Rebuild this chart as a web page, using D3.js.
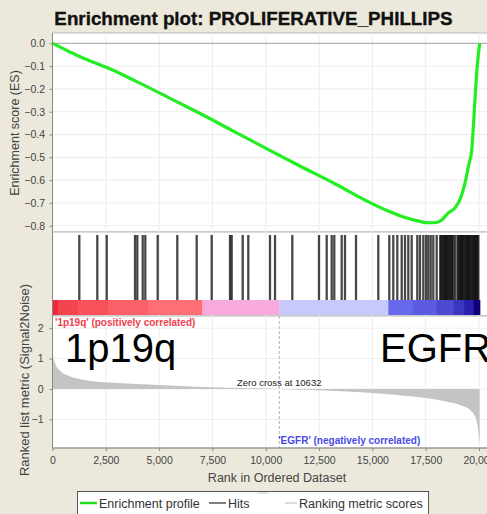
<!DOCTYPE html>
<html>
<head>
<meta charset="utf-8">
<script src="https://cdn.jsdelivr.net/npm/d3@7/dist/d3.min.js"></script>
<style>
  body { margin: 0; background: #ece9dc; }
  svg { display: block; font-family: "Liberation Sans", Arial, sans-serif; }
</style>
</head>
<body>
<svg id="chart" width="487" height="514"></svg>
<script>
// running enrichment score, [rank, ES]
var esProfile = [[0,0],[600,-0.028],[1250,-0.057],[2100,-0.09],[2550,-0.106],[3900,-0.166],
  [5400,-0.236],[6900,-0.307],[8500,-0.386],[10100,-0.465],[11600,-0.538],[13200,-0.614],
  [14750,-0.692],[15800,-0.738],[16500,-0.763],[17230,-0.781],[17600,-0.787],[18000,-0.786],
  [18250,-0.775],[18560,-0.744],[18870,-0.722],[19100,-0.687],[19260,-0.643],[19420,-0.58],
  [19500,-0.541],[19660,-0.468],[19740,-0.36],[19810,-0.25],[19900,-0.12],[19980,-0.04],[20040,0]];

// ranks of gene set members
var hits = [1257,2101,2542,3869,3977,4230,4352,4933,5852,6762,7465,8324,8403,8919,9182,
  10199,10434,11245,12497,12858,13093,13214,13561,13716,14232,15278,15794,15981,16169,
  16375,16530,16685,16844,17107,17233,17388,17515,17623,17735,17857,18016,
  18180,18230,18290,18340,18400,18450,18510,18560,18620,18670,18730,18790,18875,
  18990,19040,19100,19150,19210,19260,19320,19370,19430,19480,19540,19590,19650,
  19700,19760,19810,19870,19920,19970];

// ranked list metric (signal2noise), [rank, value]
var metric = [[0,1.3],[50,1.0],[150,0.8],[350,0.6],[800,0.42],[1500,0.3],[3000,0.2],
  [4500,0.15],[6000,0.1],[7500,0.06],[9000,0.03],[10632,0],[12000,-0.03],[13500,-0.07],
  [15000,-0.13],[16500,-0.22],[17500,-0.3],[18500,-0.42],[19200,-0.55],[19600,-0.7],
  [19850,-0.95],[19950,-1.3],[20030,-1.8]];

// heat strip bands: start rank and metric level
var bandStarts = [0,250,1200,2600,4500,7020,10632,15750,16900,18000,18800,19300,19750];
var bandLevels = [1.0,0.92,0.88,0.84,0.8,0.45,-0.3,-0.55,-0.62,-0.7,-0.8,-0.9,-1.0];
var lastRank = 20040;
var zeroCross = 10632;

var esTicks = [0,-0.1,-0.2,-0.3,-0.4,-0.5,-0.6,-0.7,-0.8];
var metricTicks = [2,1,0,-1];
var rankTicks = [0,2500,5000,7500,10000,12500,15000,17500,20000];

var svg = d3.select("#chart");
var left = 52.5, right = 500;
var x = d3.scaleLinear().domain([0, 20000]).range([left, 479]);
var yEs = d3.scaleLinear().domain([0, -0.8]).range([43.3, 225.7]);
var yM = d3.scaleLinear().domain([0, 1]).range([389, 358.6]);

var esTop = 33, esBot = 232, hitTop = 232, hitBot = 316, mTop = 316, mBot = 448;

svg.append("text").attr("x", 253.5).attr("y", 25).attr("text-anchor", "middle")
  .attr("font-size", 18.8).attr("font-weight", "bold").attr("fill", "#111")
  .attr("stroke", "#111").attr("stroke-width", 0.35)
  .text("Enrichment plot: PROLIFERATIVE_PHILLIPS");

// panel backgrounds
[[esTop, esBot], [hitTop, hitBot], [mTop, mBot]].forEach(function(p) {
  svg.append("rect").attr("x", left).attr("y", p[0]).attr("width", right - left)
    .attr("height", p[1] - p[0]).attr("fill", "#fff").attr("stroke", "#b8b8b8");
});

// grids
function vgrid(y0, y1) {
  svg.append("g").selectAll("line").data(rankTicks.slice(1)).join("line")
    .attr("x1", x).attr("x2", x).attr("y1", y0).attr("y2", y1)
    .attr("stroke", "#ececec");
}
vgrid(esTop, esBot); vgrid(hitTop, hitBot); vgrid(mTop, mBot);
svg.append("g").selectAll("line").data(esTicks).join("line")
  .attr("x1", left).attr("x2", right).attr("y1", yEs).attr("y2", yEs)
  .attr("stroke", function(d) { return d === 0 ? "#a0a0a0" : "#ececec"; });
svg.append("g").selectAll("line").data(metricTicks).join("line")
  .attr("x1", left).attr("x2", right).attr("y1", yM).attr("y2", yM)
  .attr("stroke", "#efefef");

// ES curve
svg.append("path").datum(esProfile)
  .attr("fill", "none").attr("stroke", "#22ee22").attr("stroke-width", 3.2)
  .attr("stroke-linejoin", "round")
  .attr("d", d3.line().x(function(d) { return x(d[0]); }).y(function(d) { return yEs(d[1]); })
    .curve(d3.curveMonotoneX));

// hits
svg.append("g").selectAll("line").data(hits).join("line")
  .attr("x1", x).attr("x2", x).attr("y1", 235).attr("y2", 300)
  .attr("stroke", "#000").attr("stroke-opacity", 0.72).attr("stroke-width", 2.3);

// heat strip
var heat = d3.scaleLinear()
  .domain([-1, -0.9, -0.55, -0.3, 0.45, 0.8, 1])
  .range(["#12007a", "#2a20b0", "#6868ec", "#c8c8fc", "#f8aadc", "#ff6e74", "#ec2838"]);
svg.append("g").selectAll("rect").data(bandStarts).join("rect")
  .attr("x", function(d) { return x(d); })
  .attr("width", function(d, i) {
    var end = i < bandStarts.length - 1 ? bandStarts[i + 1] : lastRank;
    return x(end) - x(d) + 0.5;
  })
  .attr("y", 300).attr("height", 15)
  .attr("fill", function(d, i) { return heat(bandLevels[i]); });

// metric area
svg.append("path").datum(metric).attr("fill", "#c4c4c4")
  .attr("d", d3.area().x(function(d) { return x(d[0]); })
    .y0(yM(0)).y1(function(d) { return yM(d[1]); }).curve(d3.curveMonotoneX));

svg.append("line").attr("x1", x(zeroCross)).attr("x2", x(zeroCross))
  .attr("y1", mTop).attr("y2", mBot).attr("stroke", "#b0b0b0").attr("stroke-dasharray", "3,2");

svg.append("text").attr("x", x(zeroCross)).attr("y", 386).attr("text-anchor", "middle")
  .attr("font-size", 9.5).attr("fill", "#222").text("Zero cross at " + zeroCross);
svg.append("text").attr("x", 55).attr("y", 326).attr("font-size", 10).attr("font-weight", "bold")
  .attr("fill", "#f04050").text("'1p19q' (positively correlated)");
svg.append("text").attr("x", x(zeroCross) - 1).attr("y", 444).attr("font-size", 10)
  .attr("font-weight", "bold").attr("fill", "#4a4ae6").text("'EGFR' (negatively correlated)");

svg.append("text").attr("x", 65).attr("y", 362).attr("font-size", 40).attr("fill", "#000").text("1p19q");
svg.append("text").attr("x", 380).attr("y", 362).attr("font-size", 40).attr("fill", "#000").text("EGFR");

// axes
function styleAxis(g) {
  g.select(".domain").attr("stroke", "#888");
  g.selectAll(".tick line").attr("stroke", "#888");
  g.selectAll(".tick text").attr("fill", "#444").attr("font-size", 10.5)
    .attr("font-family", "Liberation Sans, Arial, sans-serif");
}
svg.append("g").attr("transform", "translate(" + left + ",0)")
  .call(d3.axisLeft(yEs).tickValues(esTicks).tickFormat(d3.format(".1f")).tickSize(3).tickPadding(4.5))
  .call(styleAxis)
  .call(function(g) { g.select(".domain").attr("d", "M0," + esTop + "V" + esBot); });
svg.append("g").attr("transform", "translate(" + left + ",0)")
  .call(d3.axisLeft(yM).tickValues(metricTicks).tickFormat(d3.format("d")).tickSize(3).tickPadding(6))
  .call(styleAxis)
  .call(function(g) { g.select(".domain").attr("d", "M0," + hitTop + "V" + mBot); });
svg.append("g").attr("transform", "translate(0," + mBot + ")")
  .call(d3.axisBottom(x).tickValues(rankTicks).tickFormat(d3.format(",")).tickSize(3).tickPadding(5.5))
  .call(styleAxis)
  .call(function(g) { g.select(".domain").attr("d", "M" + left + ",0H" + right); });

svg.append("text").attr("x", 277).attr("y", 481.5).attr("text-anchor", "middle")
  .attr("font-size", 12.5).attr("fill", "#444").text("Rank in Ordered Dataset");
svg.append("text").attr("transform", "translate(19,133) rotate(-90)").attr("text-anchor", "middle")
  .attr("font-size", 12.5).attr("fill", "#444").text("Enrichment score (ES)");
svg.append("text").attr("transform", "translate(29,380) rotate(-90)").attr("text-anchor", "middle")
  .attr("font-size", 13).attr("fill", "#444").text("Ranked list metric (Signal2Noise)");

// legend
var lg = svg.append("g");
lg.append("rect").attr("x", 77.5).attr("y", 491.5).attr("width", 351).attr("height", 30)
  .attr("fill", "#fff").attr("stroke", "#555");
var legendItems = [
  {label: "Enrichment profile", x0: 80, x1: 97, tx: 99, color: "#22dd22", w: 2.5},
  {label: "Hits", x0: 209, x1: 226, tx: 228, color: "#555", w: 1.5},
  {label: "Ranking metric scores", x0: 285, x1: 297, tx: 299, color: "#d0d0d0", w: 1.5}
];
legendItems.forEach(function(it) {
  lg.append("line").attr("x1", it.x0).attr("x2", it.x1).attr("y1", 503).attr("y2", 503)
    .attr("stroke", it.color).attr("stroke-width", it.w);
  lg.append("text").attr("x", it.tx).attr("y", 507.5).attr("font-size", 12.5)
    .attr("fill", "#333").text(it.label);
});
lg.append("line").attr("x1", 257).attr("x2", 268).attr("y1", 493).attr("y2", 493)
  .attr("stroke", "#ddd").attr("stroke-width", 1.5);
</script>
</body>
</html>
